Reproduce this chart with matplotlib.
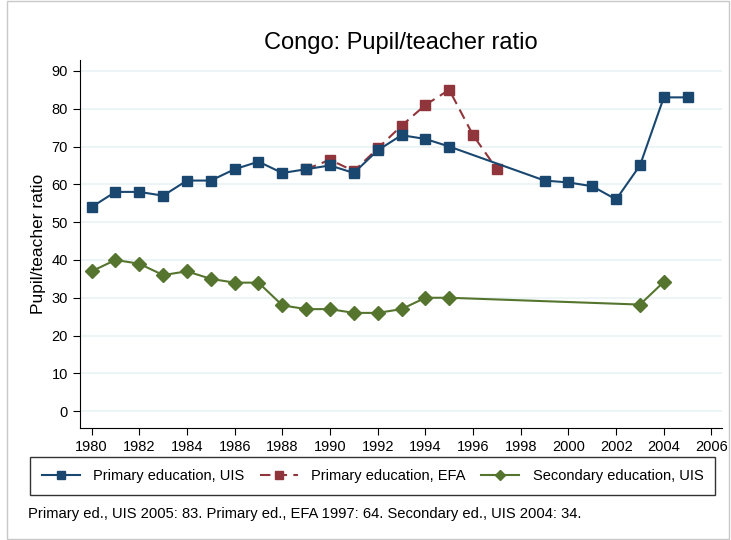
import matplotlib
matplotlib.use('Agg')
import matplotlib.pyplot as plt

plt.rcParams['font.family'] = ['Liberation Sans', 'DejaVu Sans']

# Datos
years_uis = [1980, 1981, 1982, 1983, 1984, 1985, 1986, 1987, 1988, 1989, 1990, 1991,
             1992, 1993, 1994, 1995, 1999, 2000, 2001, 2002, 2003, 2004, 2005]
primary_uis = [54, 58, 58, 57, 61, 61, 64, 66, 63, 64, 65, 63,
               69, 73, 72, 70, 61, 60.5, 59.5, 56, 65, 83, 83]

years_efa = [1989, 1990, 1991, 1992, 1993, 1994, 1995, 1996, 1997]
primary_efa = [64, 66.5, 63.5, 69.5, 75.5, 81, 85, 73, 64]

years_sec = [1980, 1981, 1982, 1983, 1984, 1985, 1986, 1987, 1988, 1989, 1990, 1991,
             1992, 1993, 1994, 1995, 2003, 2004]
secondary_uis = [37, 40, 39, 36, 37, 35, 34, 34, 28, 27, 27, 26,
                 26, 27, 30, 30, 28.2, 34.2]

x_ticks = list(range(1980, 2007, 2))
y_ticks = list(range(0, 91, 10))

navy = '#1a476f'
maroon = '#90353b'
green = '#55752f'

fig = plt.figure(figsize=(7.31, 5.4), dpi=100)
ax = fig.add_axes([0.109, 0.207, 0.879, 0.682])

for y in y_ticks:
    ax.axhline(y, color='#eaf2f3', lw=1.2, zorder=0)

ax.plot(years_uis, primary_uis, color=navy, lw=1.5, marker='s', ms=7,
        label='Primary education, UIS', zorder=3)
ax.plot(years_efa, primary_efa, color=maroon, lw=1.5, ls=(0, (5, 3)), marker='s', ms=7,
        label='Primary education, EFA', zorder=2)
ax.plot(years_sec, secondary_uis, color=green, lw=1.5, marker='D', ms=7,
        label='Secondary education, UIS', zorder=3)

ax.set_xlim(1979.5, 2006.45)
ax.set_ylim(-4.5, 92.9)
ax.set_xticks(x_ticks)
ax.set_yticks(y_ticks)
ax.tick_params(labelsize=10.5, direction='out', length=5)
ax.spines['top'].set_visible(False)
ax.spines['right'].set_visible(False)
ax.set_ylabel('Pupil/teacher ratio', fontsize=12.5)

fig.text(0.548, 0.92, 'Congo: Pupil/teacher ratio', ha='center', va='center', fontsize=17)

fig.legend(loc='lower left', bbox_to_anchor=(0.041, 0.084, 0.937, 0.065), mode='expand',
           ncol=3, frameon=True, fancybox=False, edgecolor='black', fontsize=10.5,
           handlelength=2.6, handletextpad=0.9, borderpad=0.8, borderaxespad=0,
           markerscale=0.8)

fig.text(0.038, 0.041, 'Primary ed., UIS 2005: 83. Primary ed., EFA 1997: 64. Secondary ed., UIS 2004: 34.',
         fontsize=10.6)

fig.patches.append(plt.Rectangle((0.009, 0.002), 0.988, 0.996, transform=fig.transFigure,
                                 fill=False, edgecolor='#c8c8c8', lw=1))

fig.savefig('out.png', dpi=100)
